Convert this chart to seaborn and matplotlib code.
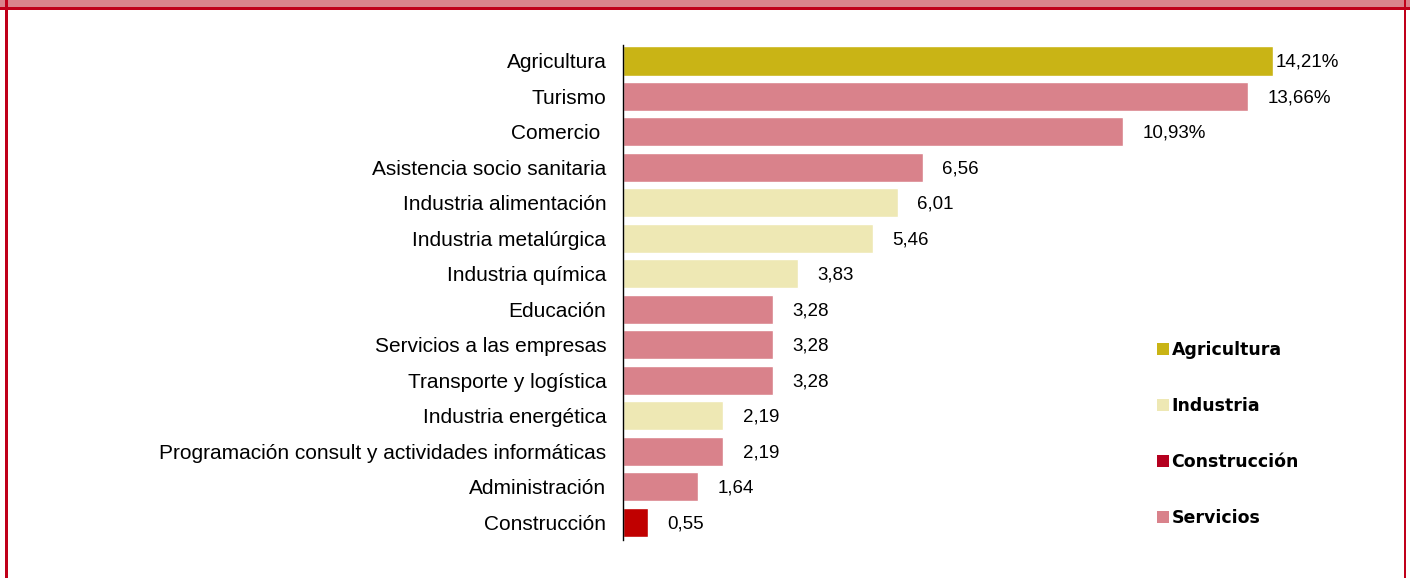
import pandas as pd
import matplotlib.pyplot as plt
import seaborn as sns
from matplotlib.patches import Patch, Rectangle

# ===== Datos =====
sectores = [
    "Agricultura",
    "Turismo",
    "Comercio ",
    "Asistencia socio sanitaria",
    "Industria alimentación",
    "Industria metalúrgica",
    "Industria química",
    "Educación",
    "Servicios a las empresas",
    "Transporte y logística",
    "Industria energética",
    "Programación consult y actividades informáticas",
    "Administración",
    "Construcción",
]
valores = [14.21, 13.66, 10.93, 6.56, 6.01, 5.46, 3.83, 3.28, 3.28, 3.28, 2.19, 2.19, 1.64, 0.55]
grupos = [
    "Agricultura", "Servicios", "Servicios", "Servicios", "Industria", "Industria",
    "Industria", "Servicios", "Servicios", "Servicios", "Industria", "Servicios",
    "Servicios", "Construcción",
]
etiquetas = ["14,21%", "13,66%", "10,93%", "6,56", "6,01", "5,46", "3,83",
             "3,28", "3,28", "3,28", "2,19", "2,19", "1,64", "0,55"]

colores = {
    "Agricultura": "#C9B415",
    "Industria": "#EEE8B4",
    "Construcción": "#C00000",
    "Servicios": "#D9828B",
}
colores_leyenda = {
    "Agricultura": "#C9B415",
    "Industria": "#EEE8B4",
    "Construcción": "#B5001F",
    "Servicios": "#D9828B",
}

df = pd.DataFrame({"sector": sectores, "valor": valores, "grupo": grupos})

sns.set_style("white")
plt.rcParams["font.family"] = ["Liberation Sans", "DejaVu Sans"]

fig = plt.figure(figsize=(14.1, 5.78), dpi=100)
ax = fig.add_axes([623 / 1410, 38 / 578, 731.8 / 1410, 495 / 578])

sns.barplot(data=df, x="valor", y="sector", hue="grupo", palette=colores,
            dodge=False, legend=False, width=0.82, ax=ax, saturation=1)

ax.set_xlim(0, 16)
ax.set_ylim(13.5, -0.45)
ax.set_xlabel("")
ax.set_ylabel("")
ax.set_xticks([])
for s in ["top", "right", "bottom"]:
    ax.spines[s].set_visible(False)
ax.spines["left"].set_color("black")
ax.spines["left"].set_linewidth(1)
ax.tick_params(axis="y", length=0, pad=12, labelsize=15, labelcolor="black")

# Etiquetas de valor
for i, (v, t) in enumerate(zip(valores, etiquetas)):
    off = 2 if i == 0 else 14
    ax.annotate(t, (v, i), xytext=(off, -1), textcoords="offset points",
                va="center", ha="left", fontsize=13.5, color="black")

# Leyenda
handles = [Patch(facecolor=colores_leyenda[g], edgecolor="none") for g in colores_leyenda]
fig.legend(handles, list(colores_leyenda), loc="upper left",
           bbox_to_anchor=(1148 / 1410, 1 - 332 / 578), frameon=False,
           prop={"family": "DejaVu Sans", "weight": "bold", "size": 12.5},
           labelcolor="black",
           handlelength=0.7, handleheight=0.7, handletextpad=0.15,
           labelspacing=2.2, borderpad=0)

# Marco
fig.patches.append(Rectangle((0, 1 - 8 / 578), 1, 8 / 578, transform=fig.transFigure,
                             facecolor="#DA838C", edgecolor="none"))
fig.patches.append(Rectangle((0, 1 - 9.5 / 578), 1, 2 / 578, transform=fig.transFigure,
                             facecolor="#C0001A", edgecolor="none"))
fig.patches.append(Rectangle((5 / 1410, 0), 2.5 / 1410, 1, transform=fig.transFigure,
                             facecolor="#C0001A", edgecolor="none"))
fig.patches.append(Rectangle((1403.5 / 1410, 0), 2.5 / 1410, 1, transform=fig.transFigure,
                             facecolor="#C0001A", edgecolor="none"))

fig.savefig("out.png", dpi=100)
